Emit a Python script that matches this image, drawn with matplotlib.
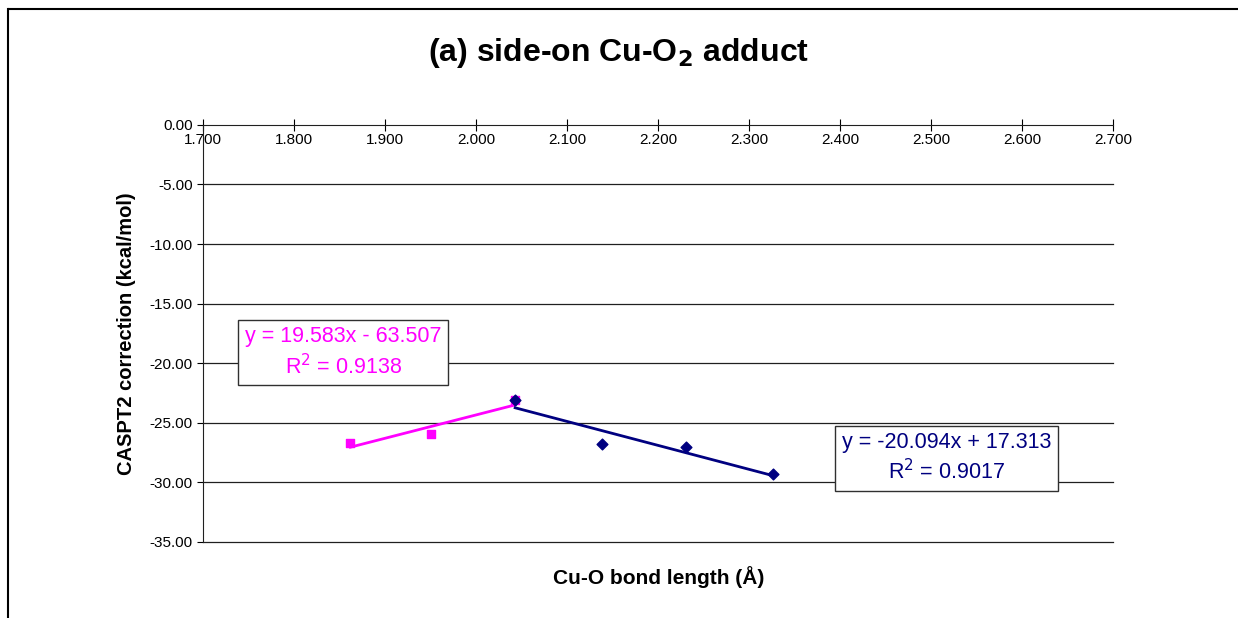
import numpy as np
import matplotlib

matplotlib.use("Agg")
import matplotlib.pyplot as plt
from matplotlib.lines import Line2D

plt.rcParams["font.family"] = ["Liberation Sans", "DejaVu Sans"]

# data
short_x = [1.862, 1.951, 2.043]
short_y = [-26.7, -25.9, -23.1]
long_x = [2.043, 2.139, 2.231, 2.326]
long_y = [-23.1, -26.8, -27.0, -29.3]

# trendline equations as printed on the chart
short_fit = (19.583, -63.507)
long_fit = (-20.094, 17.313)
short_label = "y = 19.583x - 63.507\nR$^2$ = 0.9138"
long_label = "y = -20.094x + 17.313\nR$^2$ = 0.9017"

x_ticks = [1.7, 1.8, 1.9, 2.0, 2.1, 2.2, 2.3, 2.4, 2.5, 2.6, 2.7]
y_ticks = [0, -5, -10, -15, -20, -25, -30, -35]

pink = "#FF00FF"
navy = "#000080"

fig = plt.figure(figsize=(12.38, 6.18), dpi=100)
ax = fig.add_axes([0.164, 0.123, 0.735, 0.675])

# outer chart border (only top and left visible in the crop)
fig.add_artist(Line2D([0.007, 1.0], [1 - 9 / 618, 1 - 9 / 618], color="black", lw=1.5,
                      transform=fig.transFigure))
fig.add_artist(Line2D([8 / 1238, 8 / 1238], [0.0, 1 - 9 / 618], color="black", lw=1.5,
                      transform=fig.transFigure))

ax.set_xlim(1.7, 2.7)
ax.set_ylim(-35, 0)
ax.set_xticks(x_ticks)
ax.set_yticks(y_ticks)
ax.set_xticklabels([f"{v:.3f}" for v in x_ticks])
ax.set_yticklabels([f"{v:.2f}" for v in y_ticks])

for v in y_ticks[1:]:
    ax.axhline(v, color="#202020", lw=0.9, zorder=1, clip_on=False)

ax.spines["top"].set_visible(False)
ax.spines["right"].set_visible(False)
ax.spines["bottom"].set_position(("data", 0))
ax.spines["bottom"].set_color("#202020")
ax.spines["left"].set_color("#202020")
ax.tick_params(axis="x", direction="inout", length=8, labelsize=11, pad=2)
ax.tick_params(axis="y", direction="out", length=4, labelsize=11)

# trendlines over each data range
sx = np.array([min(short_x), max(short_x)])
lx = np.array([min(long_x), max(long_x)])
ax.plot(sx, short_fit[0] * sx + short_fit[1], color=pink, lw=2, zorder=3)
ax.plot(lx, long_fit[0] * lx + long_fit[1], color=navy, lw=2, zorder=3)

ax.scatter(short_x, short_y, marker="s", s=36, color=pink, zorder=4)
ax.scatter(long_x, long_y, marker="D", s=30, color=navy, zorder=5)

box = dict(boxstyle="square,pad=0.3", fc="white", ec="#303030", lw=1)
ax.text(0.154, 0.454, short_label, transform=ax.transAxes, ha="center", va="center",
        color=pink, fontsize=15.5, linespacing=1.3, bbox=box, zorder=6)
ax.text(0.817, 0.201, long_label, transform=ax.transAxes, ha="center", va="center",
        color=navy, fontsize=15.5, linespacing=1.3, bbox=box, zorder=6)

fig.text(0.5, 0.915, "(a) side-on Cu-O$_\\mathbf{2}$ adduct", ha="center", va="center",
         fontsize=23, fontweight="bold")
fig.text(0.532, 1 - 577 / 618, "Cu-O bond length (Å)", ha="center", va="center",
         fontsize=15, fontweight="bold")
ax.set_ylabel("CASPT2 correction (kcal/mol)", fontsize=14.5, fontweight="bold", labelpad=10)

fig.savefig("out.png", dpi=100)
